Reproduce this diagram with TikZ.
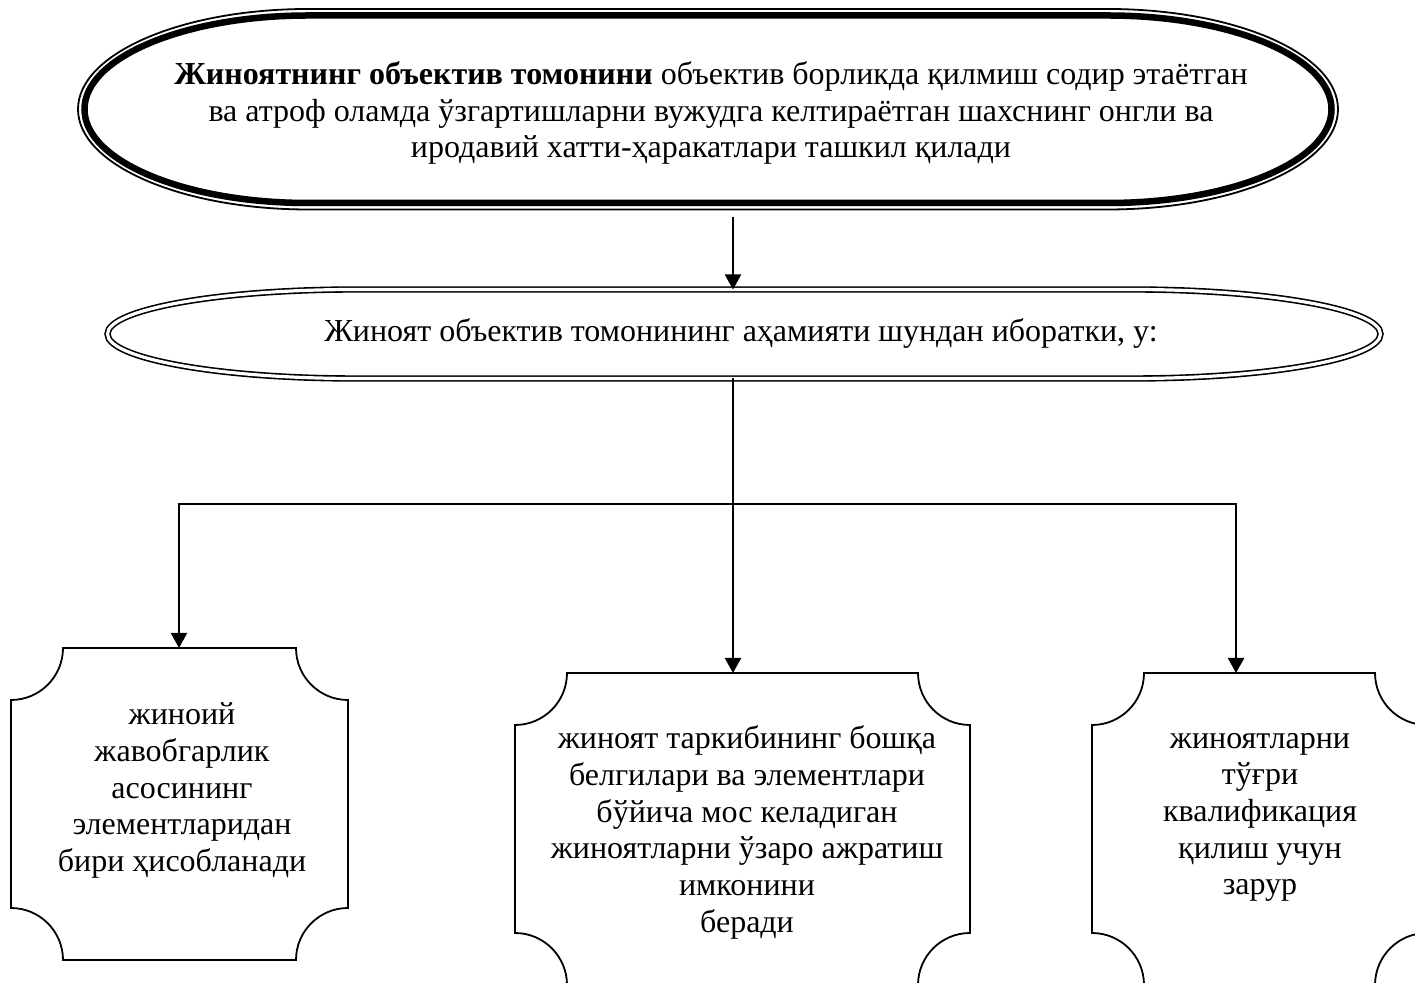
\documentclass[tikz,border=0pt]{standalone}
\usepackage{fontspec}
\setmainfont{Liberation Serif}
\usetikzlibrary{arrows.meta,calc}
\tikzset{
  conn/.style={line width=2pt},
  thinconn/.style={line width=1.4pt},
  arr/.style={line width=2.2pt,-{Triangle[width=16pt,length=15pt]}},
  frame/.style={draw=none,inner sep=0pt,outer sep=0pt},
  txt/.style={align=center,inner sep=0pt,font=\fontsize{32}{36.7}\selectfont},
  plaqueline/.style={line width=1.8pt},
}
\newcommand\myplaque[2]{%
  \draw[plaqueline] ($(#1.north west)+(0,-#2)$) arc[start angle=270,end angle=360,radius=#2pt]
    -- ($(#1.north east)+(-#2,0)$) arc[start angle=180,end angle=270,radius=#2pt]
    -- ($(#1.south east)+(0,#2)$) arc[start angle=90,end angle=180,radius=#2pt]
    -- ($(#1.south west)+(#2,0)$) arc[start angle=0,end angle=90,radius=#2pt] -- cycle;}
\newcommand\myoval[5]{%
  \draw[#5] ($(#1.west)+(#2,0)$) arc[start angle=180,end angle=90,x radius=#3pt,y radius=#4pt]
    -- ($(#1.north east)+(-#3-#2,-#2)$) arc[start angle=90,end angle=-90,x radius=#3pt,y radius=#4pt]
    -- ($(#1.south west)+(#3+#2,#2)$) arc[start angle=270,end angle=180,x radius=#3pt,y radius=#4pt] -- cycle;}
\begin{document}
\begin{tikzpicture}[x=1pt,y=1pt]
\useasboundingbox (0,0) rectangle (1415,982);
\clip (0,0) rectangle (1415,982);
% top shape
\node[frame,minimum width=1260pt,minimum height=200.5pt] (topbox) at (708,872.75) {};
\myoval{topbox}{0}{230}{100.25}{line width=1.8pt}
\myoval{topbox}{6.5}{223.5}{93.75}{line width=6.5pt}
\node[txt] (toptext) at (711,869) {{\bfseries Жиноятнинг объектив томонини} объектив борликда қилмиш содир этаётган\\ ва атроф оламда ўзгартишларни вужудга келтираётган шахснинг онгли ва\\ иродавий хатти-ҳаракатлари ташкил қилади};
% second shape
\node[frame,minimum width=1273pt,minimum height=89pt] (mid) at (744,648) {};
\myoval{mid}{0}{248}{44.5}{line width=1.6pt,double=white,double distance=3.2pt}
\node[txt,anchor=base] (midtext) at (741,640) {Жиноят объектив томонининг аҳамияти шундан иборатки, у:};
% bottom frames
\node[frame,minimum width=337pt,minimum height=312pt] (f1) at (179.5,178) {};
\node[frame,minimum width=455pt,minimum height=312pt] (f2) at (742.5,153) {};
\node[frame,minimum width=335pt,minimum height=312pt] (f3) at (1259.5,153) {};
\myplaque{f1}{52}
\myplaque{f2}{52}
\myplaque{f3}{52}
\node[txt] (t1) at (182,191.5) {жиноий\\ жавобгарлик\\ асосининг\\ элементларидан\\ бири ҳисобланади};
\node[txt] (t2) at (747,149.5) {жиноят таркибининг бошқа\\ белгилари ва элементлари\\ бўйича мос келадиган\\ жиноятларни ўзаро ажратиш\\ имконини\\ беради};
\node[txt] (t3) at (1260,164.5) {жиноятларни\\ тўғри\\ квалификация\\ қилиш учун\\ зарур};
% connectors
\coordinate (ax) at (733,477.5);
\coordinate (jl) at (179,477.5);
\coordinate (jr) at (1236,477.5);
\coordinate (ax2) at (733,502);
\draw[arr] ($(topbox.south -| ax)+(0,-7.5)$) -- (mid.north -| ax);
\draw[thinconn] (mid.south -| ax) -- (ax2);
\draw[conn,line cap=rect] (jl) -- (jr);
\draw[arr] (jl) -- (f1.north -| jl);
\draw[arr] (ax2) -- (f2.north -| ax);
\draw[arr] (jr) -- (f3.north -| jr);
\end{tikzpicture}
\end{document}
